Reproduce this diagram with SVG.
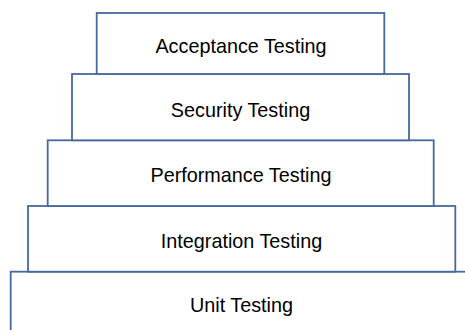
<svg xmlns="http://www.w3.org/2000/svg" width="465" height="330" viewBox="0 0 465 330">
  <style>
    .box { fill: #ffffff; stroke: #46699c; stroke-width: 1.8; }
    .lbl { font-family: "Liberation Sans", Arial, sans-serif; font-size: 19.8px; fill: #000000; text-anchor: middle; }
  </style>
  <rect width="465" height="330" fill="#ffffff"/>
  <g id="unit-testing">
    <rect class="box" x="10.7" y="271.7" width="462" height="65"/>
    <text class="lbl" x="241.5" y="311.7">Unit Testing</text>
  </g>
  <g id="integration-testing">
    <rect class="box" x="28" y="206" width="427.3" height="65.7"/>
    <text class="lbl" x="241.5" y="248">Integration Testing</text>
  </g>
  <g id="performance-testing">
    <rect class="box" x="47.7" y="140.3" width="386" height="65.7"/>
    <text class="lbl" x="241" y="182">Performance Testing</text>
  </g>
  <g id="security-testing">
    <rect class="box" x="72" y="74" width="337" height="66.3"/>
    <text class="lbl" x="240.5" y="117">Security Testing</text>
  </g>
  <g id="acceptance-testing">
    <rect class="box" x="96.7" y="13" width="287.6" height="61"/>
    <text class="lbl" x="241" y="53.2">Acceptance Testing</text>
  </g>
  <g id="connectors"/>
</svg>
